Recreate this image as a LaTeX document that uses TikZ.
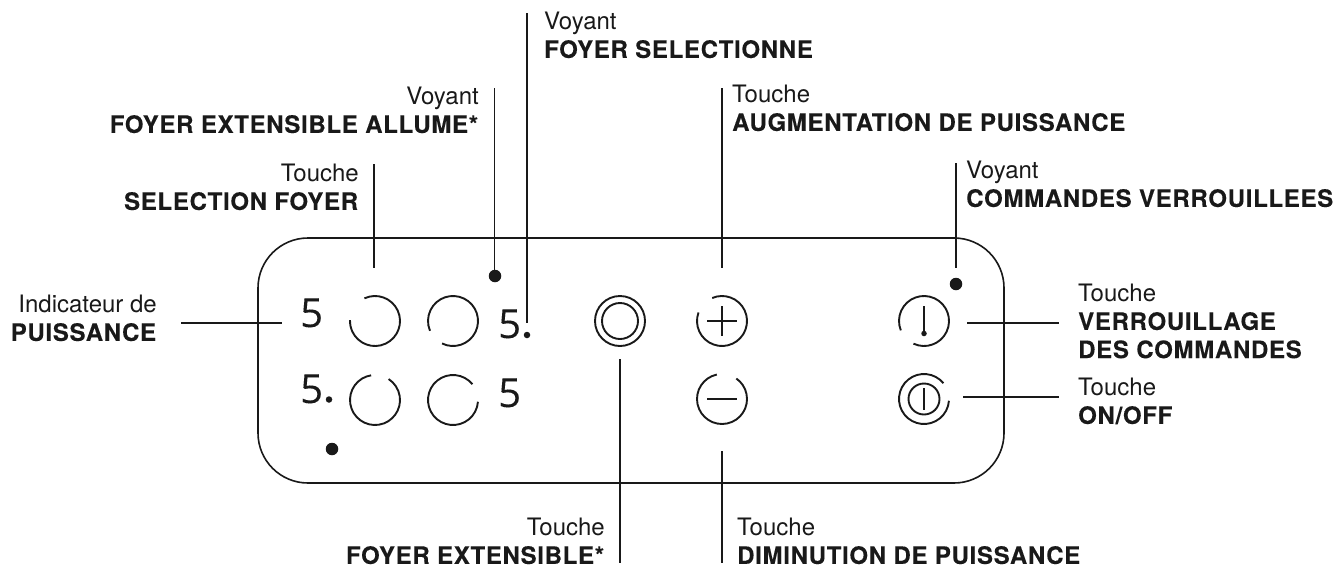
\documentclass[tikz,border=0pt]{standalone}
\usepackage{fontspec}
\setmainfont{TeX Gyre Heros}[BoldFeatures={LetterSpace=2.9,FakeBold=0.15}]
\newfontfamily\digitfont{Open Sans}[FakeBold=0.2]
\tikzset{
 x=1pt,y=-1pt,
 lbl/.style={inner sep=0pt,font=\fontsize{24pt}{28.2pt}\selectfont,text=black!90},
 lblr/.style={lbl,anchor=north east,align=right},
 lbll/.style={lbl,anchor=north west,align=left},
 leader/.style={line width=1.6pt,black!90},
 sym/.style={line width=1.9pt,black!90},
 digit/.style={inner sep=0pt,font=\digitfont\fontsize{40pt}{40pt}\selectfont,anchor=base west,black!90},
 bigdot/.style={circle,fill=black!90,inner sep=0pt,minimum size=12.5pt},
 smalldot/.style={circle,fill=black!90,inner sep=0pt,minimum size=6.5pt},
}
\newcommand{\bb}[1]{\textbf{#1}}
\newcommand{\keyarc}[3]{\draw[sym] (#1) ++(#2:25pt) arc[start angle=#2,end angle=#3,radius=25pt];}
\begin{document}
\begin{tikzpicture}
\useasboundingbox (0,0) rectangle (1337,581);
\draw[leader,rounded corners=50pt] (258,238) rectangle (1004,483);
% labels
\node[lblr] (t1) at (157,295) {Indicateur de\\\bb{PUISSANCE}};
\node[lblr] (t2) at (359,164) {Touche\\\bb{SELECTION FOYER}};
\node[lblr] (t3) at (479,87) {Voyant\\\bb{FOYER EXTENSIBLE ALLUME*}};
\node[lbll] (t4) at (544,12) {Voyant\\\bb{FOYER SELECTIONNE}};
\node[lbll] (t5) at (732,85) {Touche\\\bb{AUGMENTATION DE PUISSANCE}};
\node[lbll] (t6) at (966,161) {Voyant\\\bb{COMMANDES VERROUILLEES}};
\node[lbll] (t7) at (1078,284) {Touche\\\bb{VERROUILLAGE}\\\bb{DES COMMANDES}};
\node[lbll] (t8) at (1078,378) {Touche\\\bb{ON/OFF}};
\node[lblr] (t9) at (605,518) {Touche\\\bb{FOYER EXTENSIBLE*}};
\node[lbll] (t10) at (737,518) {Touche\\\bb{DIMINUTION DE PUISSANCE}};
% digits
\node[digit] (d1) at (300,327) {5};
\node[digit] (d2) at (498,338) {5};
\node[digit] (d3) at (300,403) {5};
\node[digit] (d4) at (498,407) {5};
\node[smalldot] (p2) at (527,335) {};
\node[smalldot] (p3) at (329,399.5) {};
% dots
\node[bigdot] (v1) at (495,276) {};
\node[bigdot] (v2) at (956,284) {};
\node[bigdot] (v3) at (332,449) {};
% keys
\coordinate (k1) at (375,321);
\coordinate (k2) at (453,321);
\coordinate (k3) at (375,400);
\coordinate (k4) at (453,400);
\coordinate (k5) at (620,321);
\coordinate (k6) at (722,321);
\coordinate (k7) at (722,399);
\coordinate (k8) at (924,321);
\coordinate (k9) at (924,399);
\keyarc{k1}{115}{-182}
\keyarc{k2}{244}{563}
\keyarc{k3}{99}{417}
\keyarc{k4}{39}{356}
\node[circle,draw,sym,inner sep=0pt,minimum size=50pt] (n5o) at (k5) {};
\node[circle,draw,sym,inner sep=0pt,minimum size=36pt] (n5i) at (k5) {};
\keyarc{k6}{160}{473}
\coordinate (pl) at (707,321); \coordinate (pr) at (737,321);
\coordinate (pt) at (722,306); \coordinate (pb) at (722,336);
\draw[sym] (pl) -- (pr);
\draw[sym] (pt) -- (pb);
\keyarc{k7}{102}{415}
\coordinate (ml) at (707,399); \coordinate (mr) at (737,399);
\draw[sym] (ml) -- (mr);
\keyarc{k8}{245}{562}
\coordinate (lt) at (924,306);
\node[circle,fill=black!90,inner sep=0pt,minimum size=5.5pt] (lb) at (924,333.5) {};
\draw[sym] (lt) -- (lb);
\keyarc{k9}{39}{356}
\node[circle,draw,sym,inner sep=0pt,minimum size=31pt] (n9i) at (k9) {};
\coordinate (ot) at (924,388); \coordinate (ob) at (924,410);
\draw[sym] (ot) -- (ob);
% leaders
\coordinate (a1) at (181,323); \coordinate (a2) at (282,323);
\coordinate (b1) at (374,164); \coordinate (b2) at (374,268);
\coordinate (c1) at (494.5,88);  \coordinate (c2) at (494.5,270);
\coordinate (e1) at (527,13);  \coordinate (e2) at (527,323);
\coordinate (f1) at (620,359); \coordinate (f2) at (620,563);
\coordinate (g1) at (722,451); \coordinate (g2) at (722,563);
\coordinate (h1) at (722,88);  \coordinate (h2) at (722,268);
\coordinate (i1) at (956,163); \coordinate (i2) at (956,268);
\coordinate (j1) at (967,323); \coordinate (j2) at (1059,323);
\coordinate (l1) at (963,397); \coordinate (l2) at (1059,397);
\draw[leader] (a1) -- (a2);
\draw[leader] (b1) -- (b2);
\draw[leader] (c1) -- (c2);
\draw[leader] (e1) -- (e2);
\draw[leader] (f1) -- (f2);
\draw[leader] (g1) -- (g2);
\draw[leader] (h1) -- (h2);
\draw[leader] (i1) -- (i2);
\draw[leader] (j1) -- (j2);
\draw[leader] (l1) -- (l2);
\end{tikzpicture}
\end{document}
